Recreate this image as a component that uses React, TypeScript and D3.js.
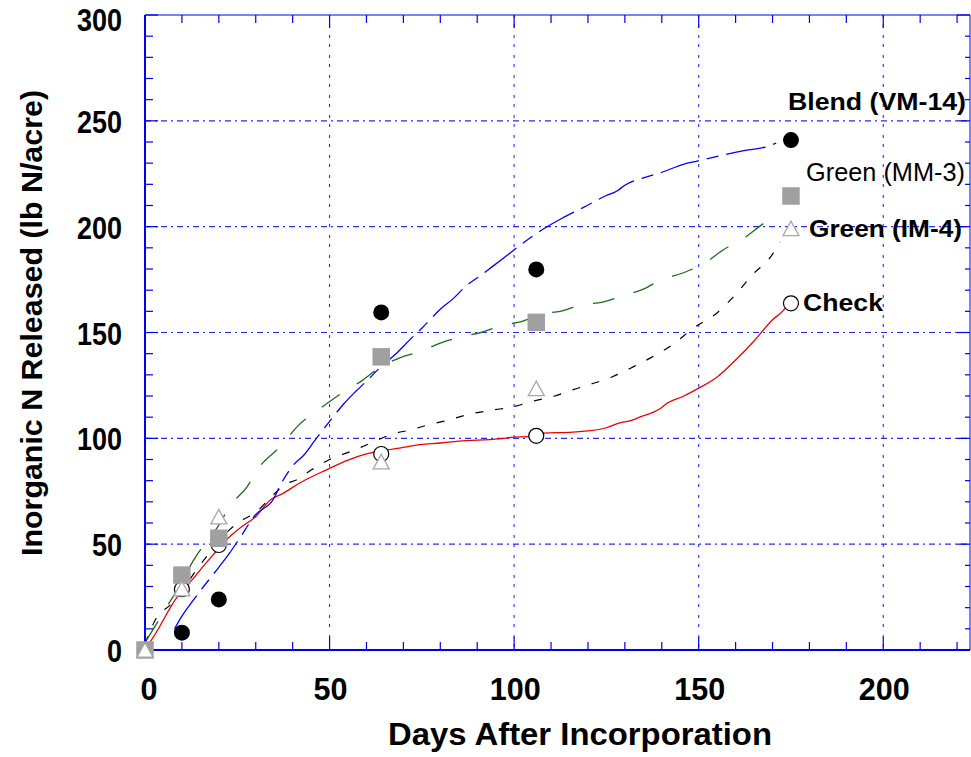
import React from "react";
import * as d3 from "d3";

// ---- data ----
const sampleDays = [0, 10, 20, 64, 106, 175];
const blendValues = [0, 8.2, 23.9, 159.5, 179.8, 240.9];
const mm3Values = [0, 35.4, 52.8, 138.5, 154.8, 214.5];
const im4Values = [0, 29, 63, 89, 123.6, 199.2];
const checkValues = [0, 28.7, 49.6, 92.6, 101.2, 163.8];

const blendCurve: [number, number][] = [
  [8, 10], [10, 16], [12, 21], [15, 28], [19.5, 38], [23, 46], [25.7, 53], [30, 64],
  [34.7, 71], [37, 79], [40, 87], [43, 92], [46, 99], [50, 108], [53.7, 116], [57, 122],
  [60, 127], [64, 134], [68, 140], [72, 147], [75, 152], [80, 161], [83.5, 166], [87, 172],
  [91, 177], [94, 181], [97, 185], [103, 193], [105, 195.5], [108, 199], [113, 204],
  [118.7, 209], [124.7, 214.5], [128, 217], [130, 219.6], [135, 223], [141, 226.3],
  [146, 229.6], [149.6, 231], [152, 232], [157, 234], [162.6, 236], [168, 237.6], [171, 239.5],
];
const mm3Curve: [number, number][] = [
  [0.4, 4.7], [3, 12], [5.9, 20.5], [10, 32], [13, 42], [15.7, 49], [17.6, 53], [20, 59],
  [23, 68], [27.6, 77], [31, 86.5], [36.6, 96], [41.5, 106], [47.4, 114], [53, 121],
  [59, 127.5], [64, 134], [69, 138], [74.5, 141], [80, 145], [86, 148], [91, 150],
  [97, 153.5], [101.6, 155], [108, 159], [112.5, 160], [118, 163], [124, 164.4],
  [130, 167.7], [135, 170.5], [140, 175], [145.5, 178], [151.8, 183], [156.6, 189],
  [162.6, 195], [168, 202], [170, 204],
];
const im4Curve: [number, number][] = [
  [0, 3], [4, 17.5], [6, 20], [10, 28], [14, 38], [18, 47], [23, 57], [26, 61], [30, 65],
  [34, 72], [38.4, 78.7], [41, 80.3], [45, 85], [50, 90], [56, 94], [61.5, 98], [67, 102],
  [72, 104], [77, 106.5], [82, 108.5], [88, 111.5], [94, 113.3], [100, 115], [105, 117.5],
  [111, 120], [116, 123], [121.5, 126], [126.5, 129], [132.5, 134], [138, 139],
  [143.5, 145], [148.5, 152], [154.8, 159], [160, 168], [164.7, 177.5], [170, 187], [172, 193],
];
const checkCurve: [number, number][] = [
  [0, 1], [1, 3], [8.7, 25], [12.7, 33], [16, 40], [19.5, 47], [22, 52], [26, 58], [30, 63],
  [34, 71], [37.4, 74], [42, 79], [49, 85], [55, 89.7], [60, 92.6], [65.5, 94.5], [69, 95.4],
  [74.5, 97], [80, 97.8], [85, 98.7], [96, 99.7], [100, 100.6], [104, 100.8], [108, 102.5],
  [115, 102.8], [120, 103.5], [125, 105], [128, 107], [132, 108.6], [134, 110], [139.5, 114],
  [141.5, 116.7], [146, 120], [150, 123.7], [155, 129], [160, 137], [165, 146], [170, 156],
  [173, 160.6], [174, 163],
];

const xTickLabels = [0, 50, 100, 150, 200];
const yTickLabels = [0, 50, 100, 150, 200, 250, 300];
const xTitle = "Days After Incorporation";
const yTitle = "Inorganic N Released (lb N/acre)";
const seriesLabels = ["Blend (VM-14)", "Green (MM-3)", "Green (IM-4)", "Check"];

// ---- layout ----
const W = 971, H = 757;
const L = 145, R = 970, T = 15, B = 650;
const BLUE = "#0000ee";
const GRID = "#2a2aff";
const FONT = "Arial, 'Liberation Sans', Helvetica, sans-serif";

export default function App() {
  const x = d3.scaleLinear().domain([0, 223.5]).range([L, R]);
  const y = d3.scaleLinear().domain([0, 300]).range([B, T]);
  const line = d3.line<[number, number]>().x(d => x(d[0])).y(d => y(d[1])).curve(d3.curveMonotoneX);

  const xMinor = d3.range(0, 221, 10);
  const yMinor = d3.range(0, 301, 10);

  const sq = 17.5;
  const tri = (cx: number, cy: number) => {
    const w = 16, h = 14.5;
    return `M${cx},${cy - h / 2}L${cx + w / 2},${cy + h / 2}L${cx - w / 2},${cy + h / 2}Z`;
  };

  return (
    <svg width={W} height={H} style={{ position: "absolute", left: 0, top: 0, background: "#fff" }} fontFamily={FONT}>
      <rect x={0} y={0} width={W} height={H} fill="#fff" />
      {/* grid */}
      {xTickLabels.filter(v => v > 0).map(v => (
        <line key={"gx" + v} x1={x(v)} x2={x(v)} y1={T} y2={B} stroke={GRID} strokeWidth={1.1} strokeDasharray="3,6,3,8" />
      ))}
      {yTickLabels.filter(v => v > 0 && v < 300).map(v => (
        <line key={"gy" + v} x1={L} x2={R} y1={y(v)} y2={y(v)} stroke={GRID} strokeWidth={1.1} strokeDasharray="6,4,2,4" />
      ))}
      {/* frame */}
      <line x1={L} x2={R} y1={T} y2={T} stroke={BLUE} strokeWidth={1} />
      <line x1={R} x2={R} y1={T} y2={B} stroke={BLUE} strokeWidth={1} />
      <line x1={L} x2={L} y1={T} y2={B} stroke={BLUE} strokeWidth={2} />
      <line x1={L} x2={R} y1={B} y2={B} stroke={BLUE} strokeWidth={2} />
      {/* ticks */}
      {xMinor.map(v => {
        const len = v % 50 === 0 ? 13 : 8;
        return (
          <g key={"tx" + v}>
            <line x1={x(v)} x2={x(v)} y1={B} y2={B - len} stroke={BLUE} strokeWidth={1.2} />
            <line x1={x(v)} x2={x(v)} y1={T} y2={T + len} stroke={BLUE} strokeWidth={1.2} />
          </g>
        );
      })}
      {yMinor.map(v => {
        const major = v % 50 === 0;
        return (
          <g key={"ty" + v}>
            <line x1={L} x2={L + (major ? 13 : 8)} y1={y(v)} y2={y(v)} stroke={BLUE} strokeWidth={1.2} />
            <line x1={R} x2={R - (major ? 13 : 5)} y1={y(v)} y2={y(v)} stroke={BLUE} strokeWidth={1.2} />
          </g>
        );
      })}
      {/* tick labels */}
      {yTickLabels.map(v => (
        <text key={"yl" + v} x={122} y={y(v) + 12 + (v === 300 ? 4 : 0)} textAnchor="end" fontSize={31} fontWeight="bold" fill="#000"
          textLength={String(v).length * 15} lengthAdjust="spacingAndGlyphs">
          {v}
        </text>
      ))}
      {xTickLabels.map(v => (
        <text key={"xl" + v} x={x(v) + (v === 0 ? 4 : 1)} y={700} textAnchor="middle" fontSize={32} fontWeight="bold" fill="#000"
          textLength={String(v).length * 17} lengthAdjust="spacingAndGlyphs">
          {v}
        </text>
      ))}
      <text x={580} y={745} textAnchor="middle" fontSize={32} fontWeight="bold" textLength={384} lengthAdjust="spacingAndGlyphs">{xTitle}</text>
      <text transform="translate(42,323) rotate(-90)" textAnchor="middle" fontSize={30} fontWeight="bold" textLength={466} lengthAdjust="spacingAndGlyphs">{yTitle}</text>

      {/* curves */}
      <path d={line(checkCurve) || ""} fill="none" stroke="#ee0000" strokeWidth={1.3} />
      <path d={line(im4Curve) || ""} fill="none" stroke="#000" strokeWidth={1.2} strokeDasharray="8,12" />
      <path d={line(mm3Curve) || ""} fill="none" stroke="#1a6e1a" strokeWidth={1.3} strokeDasharray="22,20" />
      <path d={line(blendCurve) || ""} fill="none" stroke="#0000ff" strokeWidth={1.3} strokeDasharray="40,8,12,8" />

      {/* markers */}
      {sampleDays.map((d, i) => (
        <circle key={"ck" + i} cx={x(d)} cy={y(checkValues[i])} r={7.5} fill="#fff" stroke="#000" strokeWidth={1.2} />
      ))}
      {sampleDays.map((d, i) => (
        <circle key={"bl" + i} cx={x(d)} cy={y(blendValues[i])} r={8} fill="#000" />
      ))}
      {sampleDays.map((d, i) => (
        <rect key={"mm" + i} x={x(d) - sq / 2} y={y(mm3Values[i]) - sq / 2} width={sq} height={sq} fill="#a0a0a0" />
      ))}
      {sampleDays.map((d, i) => (
        <path key={"im" + i} d={tri(x(d), y(im4Values[i]))} fill="#fff" stroke="#a8a8a8" strokeWidth={1.3} />
      ))}

      {/* series labels */}
      <text x={788} y={110} fontSize={24} fontWeight="bold" textLength={178} lengthAdjust="spacingAndGlyphs">{seriesLabels[0]}</text>
      <text x={806} y={181} fontSize={25} fontWeight="normal" textLength={159} lengthAdjust="spacingAndGlyphs">{seriesLabels[1]}</text>
      <text x={809} y={237} fontSize={24} fontWeight="bold" textLength={153} lengthAdjust="spacingAndGlyphs">{seriesLabels[2]}</text>
      <text x={803} y={311} fontSize={24} fontWeight="bold" textLength={80} lengthAdjust="spacingAndGlyphs">{seriesLabels[3]}</text>
    </svg>
  );
}
